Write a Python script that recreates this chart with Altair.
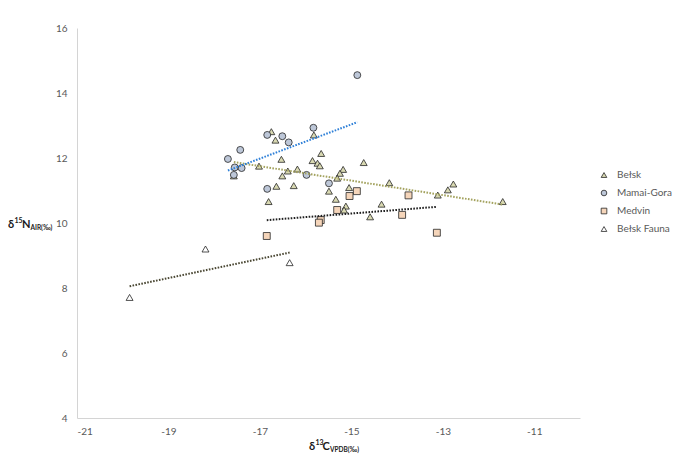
import altair as alt
import pandas as pd

# ---- data ----
series_names = ["Bełsk", "Mamai-Gora", "Medvin", "Bełsk Fauna"]

belsk_x = [-15.66, -16.53, -15.85, -15.74, -15.69, -14.73, -17.02, -16.18, -16.39, -16.51,
           -17.57, -15.18, -15.25, -15.31, -16.64, -16.26, -15.49, -15.05, -14.17, -16.81,
           -15.34, -15.12, -15.16, -14.34, -14.59, -13.11, -12.89, -12.77, -11.69, -16.75,
           -16.66, -15.82]
belsk_y = [12.14, 11.96, 11.92, 11.84, 11.76, 11.86, 11.75, 11.66, 11.60, 11.45,
           11.45, 11.65, 11.53, 11.38, 11.13, 11.15, 10.98, 11.09, 11.24, 10.66,
           10.73, 10.52, 10.40, 10.58, 10.19, 10.86, 11.02, 11.20, 10.66, 12.81,
           12.55, 12.71]

mamai_x = [-14.87, -15.83, -16.84, -16.51, -16.37, -17.43, -17.70, -17.55, -17.40, -17.57,
           -15.98, -16.84, -15.49]
mamai_y = [14.55, 12.93, 12.71, 12.67, 12.48, 12.25, 11.97, 11.71, 11.69, 11.48,
           11.48, 11.05, 11.22]

medvin_x = [-14.88, -15.04, -13.75, -15.31, -13.89, -15.67, -15.71, -16.85, -13.13]
medvin_y = [10.98, 10.83, 10.85, 10.40, 10.25, 10.09, 10.01, 9.60, 9.70]

fauna_x = [-19.85, -18.19, -16.35]
fauna_y = [7.71, 9.20, 8.78]

x_ticks = [-21, -19, -17, -15, -13, -11]
y_ticks = [4, 6, 8, 10, 12, 14, 16]

# ---- styles ----
fills = ["#d9d9b2", "#bdc7d8", "#f5d5ba", "#ffffff"]
shapes = ["triangle-up", "circle", "square", "triangle-up"]
outline = ["#262626"] * 4
trend_colors = ["#a3a25e", "#2f80d8", "#1f1f1f", "#4a4733"]
FONT = "Lato"
GREY = "#595959"

rows = []
for name, xs, ys in zip(series_names,
                        [belsk_x, mamai_x, medvin_x, fauna_x],
                        [belsk_y, mamai_y, medvin_y, fauna_y]):
    for a, b in zip(xs, ys):
        rows.append({"series": name, "x": a, "y": b})
df = pd.DataFrame(rows)

xscale = alt.Scale(domain=[-21, -10], nice=False, zero=False)
yscale = alt.Scale(domain=[4, 16], nice=False, zero=False)

xaxis = alt.Axis(values=x_ticks, title=None, grid=False, ticks=False,
                 domainColor="#d4d4d4", domainWidth=1, labelColor=GREY,
                 labelFont=FONT, labelFontSize=10, labelPadding=8,
                 labelExpr="toString(datum.value)")
yaxis = alt.Axis(values=y_ticks, title=None, grid=False, ticks=False,
                 domainColor="#d4d4d4", domainWidth=1, labelColor=GREY,
                 labelFont=FONT, labelFontSize=10, labelPadding=10,
                 labelExpr="toString(datum.value)")

legend = alt.Legend(title=None, orient="none", legendX=522, legendY=142,
                    labelFont=FONT, labelFontSize=10, labelColor=GREY,
                    symbolSize=32, symbolStrokeWidth=0.8, rowPadding=8,
                    labelOffset=8, padding=0)

points = alt.Chart(df).mark_point(
    filled=True, size=48, strokeWidth=0.8, opacity=1
).encode(
    x=alt.X("x:Q", scale=xscale, axis=xaxis),
    y=alt.Y("y:Q", scale=yscale, axis=yaxis),
    fill=alt.Fill("series:N", scale=alt.Scale(domain=series_names, range=fills),
                  legend=legend, sort=series_names),
    shape=alt.Shape("series:N", scale=alt.Scale(domain=series_names, range=shapes),
                    legend=legend, sort=series_names),
    stroke=alt.Stroke("series:N", scale=alt.Scale(domain=series_names, range=outline),
                      legend=legend, sort=series_names),
)

trends = []
for name, col in zip(series_names, trend_colors):
    trends.append(
        alt.Chart(df).transform_filter(alt.datum.series == name)
        .transform_regression("x", "y")
        .mark_line(strokeDash=[1.6, 1.4], strokeWidth=2, stroke=col)
        .encode(x=alt.X("x:Q", scale=xscale), y=alt.Y("y:Q", scale=yscale))
    )


def txt(s, px, py, size):
    return alt.Chart(pd.DataFrame({"k": [0]})).mark_text(
        text=s, align="left", baseline="alphabetic", font=FONT,
        fontSize=size, fontWeight="bold", color="#1a1a1a"
    ).encode(x=alt.value(px), y=alt.value(py))


# x title: δ13C VPDB(‰)
xt = [txt("δ", 232, 422, 11), txt("13", 238.5, 417, 7),
      txt("C", 245.5, 422, 11), txt("VPDB(‰)", 253, 424, 6.5)]
# y title: δ15N AIR(‰)
yt = [txt("δ", -69, 200, 11), txt("15", -62.5, 195, 7),
      txt("N", -55, 200, 11), txt("AIR(‰)", -46.5, 202, 6.5)]

chart = alt.layer(points, *trends, *xt, *yt).properties(
    width=503, height=390,
    autosize=alt.AutoSizeParams(type="none"),
    padding={"left": 69, "top": 20, "right": 94, "bottom": 40},
    background="white",
).configure_view(stroke=None)

chart.save("out.html", embed_options={"renderer": "svg", "actions": False})
